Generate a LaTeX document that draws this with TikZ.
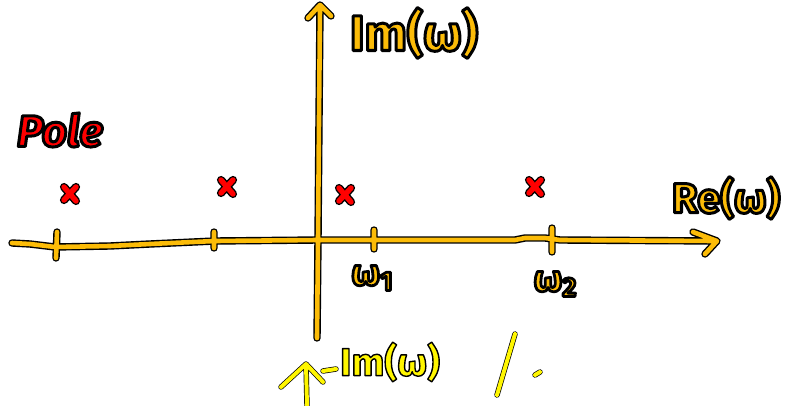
\documentclass[tikz,border=0pt]{standalone}
\usepackage{fontspec}
\setmainfont{Fira Sans}

\definecolor{axisorange}{RGB}{252,188,8}
\definecolor{polered}{RGB}{255,0,0}
\definecolor{hiyellow}{RGB}{255,246,0}

% text filled in the current colour and stroked in black (PDF render mode 2)
\newcommand\inktext[2]{%
  \special{pdf:literal direct #1 w 1 j 0 0 0 RG 2 Tr}#2%
  \special{pdf:literal direct 0 Tr}}
% index digit written almost as large as the letter, slightly lowered
\newcommand\lowdigit[1]{\raisebox{-0.14em}{\fontsize{27}{30}\selectfont #1}}

\tikzset{
  inkline/.style={draw=black, line width=1.4pt, double=axisorange,
    double distance=4.6pt, line cap=round, line join=round},
  polemark/.style={draw=black, line width=1.4pt, double=polered,
    double distance=5.4pt, line cap=round, line join=round},
  scribble/.style={draw=black, line width=0.7pt, double=hiyellow,
    double distance=4pt, line cap=round, line join=round},
  orangelabel/.style={text=axisorange, font=\bfseries, inner sep=0pt},
  redlabel/.style={text=polered, font=\bfseries\itshape, inner sep=0pt},
  yellowlabel/.style={text=hiyellow, font=\bfseries, inner sep=0pt},
}

\begin{document}
\begin{tikzpicture}[x=1pt, y=-1pt]
  % canvas
  \fill[white] (0,0) rectangle (786,406);
  \useasboundingbox (0,0) rectangle (786,406);

  \coordinate (O) at (318,240);

  % axes, tick marks and arrow heads in one inked stroke
  \draw[inkline]
    (12,243) -- (30,244) -- (55,247) -- (110,246) -- (150,244)
      -- (215,241) -- (O) -- (515,240) -- (525,238) -- (545,238)
      -- (560,240) -- (715,241)
    (693,232) -- (717,241) -- (705,254)
    (57,232) -- (56,258)
    (214,232) -- (214,248)
    (374,230) -- (374,249)
    (552,228) -- (552,252)
    (317,338) -- (O) -- (319,120) -- (320,8)
    (308,18) -- (320,5) -- (331,16);

  % poles
  \foreach \cx/\cy in {70/194, 227/187, 345/195, 535/187}{
    \draw[polemark] (\cx-6,\cy-7) -- (\cx+6,\cy+7)
                    (\cx+6,\cy-7) -- (\cx-6,\cy+6);
  }

  % labels
  \node[redlabel] (pole) at (60,130)
    {\fontsize{44}{50}\selectfont\inktext{3}{Pole}};
  \node[orangelabel] (imw) at (414,33)
    {\fontsize{50}{56}\selectfont\inktext{3}{Im(ω)}};
  \node[orangelabel] (rew) at (726,198)
    {\fontsize{42}{50}\selectfont\inktext{3}{Re(ω)}};
  \node[orangelabel] (w1) at (372,278)
    {\fontsize{37}{40}\selectfont\inktext{2.8}{ω\lowdigit{1}}};
  \node[orangelabel] (w2) at (555,284)
    {\fontsize{37}{40}\selectfont\inktext{2.8}{ω\lowdigit{2}}};

  % highlighter notes at the bottom
  \coordinate (arrtail) at (307,406);
  \coordinate (arrtip) at (306,364);
  \draw[scribble] (arrtail) -- (arrtip)
    (281,387) -- (arrtip) -- (323,382)
    (323,371) -- (336,369);
  \node[yellowlabel] (imlow) at (390,362)
    {\fontsize{39}{42}\selectfont\inktext{1.4}{Im(ω)}};
  \coordinate (slashtop) at (515,334);
  \coordinate (slashbot) at (497,395);
  \draw[scribble] (slashtop) -- (slashbot);
  \coordinate (dotmark) at (540,372);
  \draw[scribble] (dotmark) -- ++(-5,3);
\end{tikzpicture}
\end{document}
